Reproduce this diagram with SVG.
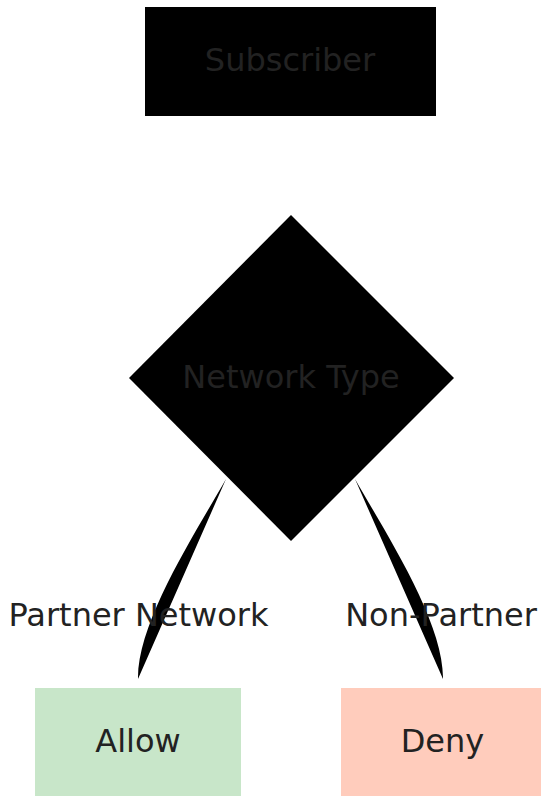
<svg xmlns="http://www.w3.org/2000/svg" width="541" height="796" viewBox="0 0 541 796">
<style>
  text { font-family: "DejaVu Sans", "Liberation Sans", sans-serif; font-size: 32px; fill: #222222; text-anchor: middle; }
  .dark { fill: #000000; }
  .edge { fill: #000000; stroke: none; }
</style>
<rect x="0" y="0" width="541" height="796" fill="#ffffff"/>
<g id="connectors">
  <path class="edge" d="M226,479 C196,532 137,622 138,679 Z"/>
  <path class="edge" d="M355,479 C385,532 444,622 443,679 Z"/>
  <text x="138.5" y="626">Partner Network</text>
  <text x="441" y="626">Non-Partner</text>
</g>
<g id="subscriber">
  <rect class="dark" x="145" y="7" width="291" height="109"/>
  <text x="290" y="71">Subscriber</text>
</g>
<g id="network-type">
  <polygon class="dark" points="291,215 454,378 291,541 129,378"/>
  <text x="291" y="388">Network Type</text>
</g>
<g id="allow">
  <rect x="35" y="688" width="206" height="108" fill="#c8e6c9"/>
  <text x="138" y="752">Allow</text>
</g>
<g id="deny">
  <rect x="341" y="688" width="200" height="108" fill="#ffccbc"/>
  <text x="442.5" y="752">Deny</text>
</g>
</svg>
